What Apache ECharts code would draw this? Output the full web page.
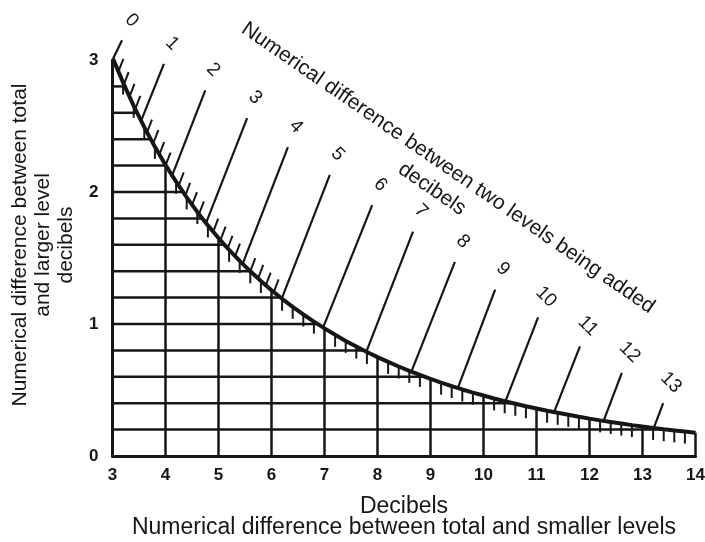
<!DOCTYPE html>
<html><head><meta charset="utf-8">
<script src="https://cdn.jsdelivr.net/npm/echarts@6/dist/echarts.min.js"></script>
<style>html,body{margin:0;padding:0;background:#fff}#c{width:705px;height:542px}</style>
</head><body><div id="c"></div>
<script>
// ---- data ----
const xTickLabels = [3,4,5,6,7,8,9,10,11,12,13,14];
const yTickLabels = [0,1,2,3];
// curve: difference between total and smaller (x) vs total and larger (y)
const curveX = [3.01,3.2,3.4,3.6,3.8,4.0,4.2,4.4,4.6,4.8,5.0,5.2,5.4,5.6,5.8,6.0,6.2,6.4,6.6,6.8,7.0,7.2,7.4,7.6,7.8,8.0,8.2,8.4,8.6,8.8,9.0,9.2,9.4,9.6,9.8,10.0,10.2,10.4,10.6,10.8,11.0,11.2,11.4,11.6,11.8,12.0,12.2,12.4,12.6,12.8,13.0,13.2,13.4,13.6,13.8,14.0];
const curveY = [3.01,2.829,2.653,2.491,2.342,2.205,2.078,1.959,1.849,1.747,1.651,1.562,1.478,1.399,1.326,1.256,1.191,1.130,1.072,1.018,0.967,0.918,0.872,0.829,0.788,0.749,0.713,0.678,0.645,0.614,0.584,0.556,0.530,0.504,0.480,0.458,0.436,0.415,0.396,0.377,0.360,0.343,0.327,0.312,0.297,0.283,0.270,0.258,0.246,0.234,0.223,0.213,0.203,0.194,0.185,0.176];
// horizontal rulings (y) and where they meet the curve (x)
const rulingY    = [0.2,0.4,0.6,0.8,1.0,1.2,1.4,1.6,1.8,2.0,2.2,2.4,2.6,2.8];
const rulingEndX = [13.467,10.556,8.893,7.741,6.868,6.172,5.598,5.112,4.694,4.329,4.007,3.721,3.463,3.231];
// "difference between two levels being added" scale: integer marks
const levelDiff   = [0,1,2,3,4,5,6,7,8,9,10,11,12,13];
const levelDiffX  = [3.010,3.539,4.124,4.764,5.455,6.193,6.973,7.790,8.639,9.515,10.414,11.332,12.266,13.212];
const levelDiffY  = [3.010,2.539,2.124,1.764,1.455,1.193,0.973,0.790,0.639,0.515,0.414,0.332,0.266,0.212];
const levelTopX   = [3.18,3.97,4.75,5.54,6.31,7.10,7.90,8.67,9.46,10.22,11.03,11.82,12.61,13.39];
const levelTopY   = [3.15,2.97,2.77,2.56,2.34,2.13,1.90,1.70,1.47,1.26,1.05,0.83,0.63,0.40];
// minor marks of that scale (0.2 steps, 0 to 5)
const minorDiffX = [3.11,3.21,3.32,3.43,3.65,3.77,3.88,4.00,4.25,4.37,4.50,4.63,4.90,5.04,5.17,5.31,5.60,5.75,5.89,6.04];
const minorDiffY = [2.91,2.81,2.72,2.63,2.45,2.37,2.28,2.20,2.05,1.97,1.90,1.83,1.70,1.64,1.57,1.51,1.40,1.35,1.29,1.24];

// ---- chart ----
const INK = '#161616';
const FONT = 'Liberation Sans, Arial, Helvetica, sans-serif';
const curveData = curveX.map((x, i) => [x, curveY[i]]);
const xMinorData = curveData.filter(p => Math.abs(p[0] - Math.round(p[0])) > 1e-6);
const verticalData = curveData.filter(p => Math.abs(p[0] - Math.round(p[0])) < 1e-6 && p[0] > 3.5);
const rulingData = rulingY.map((y, i) => [y, rulingEndX[i]]);
const majorData = levelDiff.map((d, i) => [d, levelDiffX[i], levelDiffY[i], levelTopX[i], levelTopY[i]]);
const minorDiffData = minorDiffX.map((x, i) => [x, minorDiffY[i]]);

function line(p1, p2, w) {
  return {type: 'line', shape: {x1: p1[0], y1: p1[1], x2: p2[0], y2: p2[1]},
          style: {stroke: INK, lineWidth: w, lineCap: 'butt'}};
}
const ROT = -34.6 * Math.PI / 180;

const chart = echarts.init(document.getElementById('c'), null, {renderer: 'canvas'});
chart.setOption({
  animation: false,
  backgroundColor: '#fff',
  textStyle: {fontFamily: FONT},
  grid: {left: 112.5, right: 9.5, top: 60, bottom: 86, containLabel: false, outerBoundsMode: 'none'},
  xAxis: {
    type: 'value', min: 3, max: 14, interval: 1,
    axisLine: {show: true, onZero: false, lineStyle: {color: INK, width: 3}},
    axisTick: {show: false}, splitLine: {show: false},
    axisLabel: {color: INK, fontSize: 17, fontWeight: 'bold', margin: 11, fontFamily: FONT,
                formatter: v => xTickLabels.includes(v) ? String(v) : ''},
    name: 'Decibels\nNumerical difference between total and smaller levels',
    nameLocation: 'middle', nameGap: 40,
    nameTextStyle: {color: INK, fontSize: 23, lineHeight: 21, fontFamily: FONT}
  },
  yAxis: {
    type: 'value', min: 0, max: 3, interval: 1,
    axisLine: {show: true, onZero: false, lineStyle: {color: INK, width: 3}},
    axisTick: {show: false}, splitLine: {show: false},
    axisLabel: {color: INK, fontSize: 17, fontWeight: 'bold', margin: 14, fontFamily: FONT,
                formatter: v => yTickLabels.includes(v) ? String(v) : ''},
    name: 'Numerical difference between total\nand larger level\ndecibels',
    nameLocation: 'middle', nameRotate: 90, nameGap: 33,
    nameTextStyle: {color: INK, fontSize: 21, lineHeight: 23, fontFamily: FONT, padding: [0, 0, 0, 26]}
  },
  graphic: [
    {type: 'text', x: 448, y: 168, rotation: ROT, z: 100,
     style: {text: 'Numerical difference between two levels being added', fill: INK,
             fontSize: 21, fontFamily: FONT, align: 'center', verticalAlign: 'middle'}},
    {type: 'text', x: 432, y: 189, rotation: ROT, z: 100,
     style: {text: 'decibels', fill: INK, fontSize: 21, fontFamily: FONT, align: 'center', verticalAlign: 'middle'}}
  ],
  series: [
    { // horizontal rulings under the curve
      type: 'custom', clip: false, data: rulingData,
      renderItem: (params, api) => line(api.coord([3, api.value(0)]), api.coord([api.value(1), api.value(0)]), 2.5)
    },
    { // vertical rulings under the curve
      type: 'custom', clip: false, data: verticalData,
      renderItem: (params, api) => line(api.coord([api.value(0), 0]), api.coord([api.value(0), api.value(1)]), 2.5)
    },
    { // 0.2 dB marks hanging from the curve
      type: 'custom', clip: false, data: xMinorData,
      renderItem: (params, api) => {
        const p = api.coord([api.value(0), api.value(1)]);
        return line(p, [p[0], p[1] + 12], 2);
      }
    },
    { // minor marks of the two-level difference scale
      type: 'custom', clip: false, data: minorDiffData,
      renderItem: (params, api) => {
        const p = api.coord([api.value(0), api.value(1)]);
        return line(p, [p[0] + 5, p[1] - 13], 2);
      }
    },
    { // major marks with labels
      type: 'custom', clip: false, data: majorData,
      renderItem: (params, api) => {
        const a = api.coord([api.value(1), api.value(2)]);
        const b = api.coord([api.value(3), api.value(4)]);
        const dx = b[0] - a[0], dy = b[1] - a[1], L = Math.hypot(dx, dy);
        const ux = dx / L, uy = dy / L;
        return {type: 'group', children: [
          line(a, b, 2.2),
          {type: 'text', x: b[0] + ux * 22, y: b[1] + uy * 22, rotation: -45 * Math.PI / 180,
           style: {text: String(api.value(0)), fill: INK, fontSize: 19, fontFamily: FONT,
                   align: 'center', verticalAlign: 'middle'}}
        ]};
      }
    },
    { // the curve
      type: 'line', data: curveData, showSymbol: false, symbol: 'none', smooth: false,
      lineStyle: {color: INK, width: 4}, z: 5
    }
  ]
});
</script>
</body></html>
